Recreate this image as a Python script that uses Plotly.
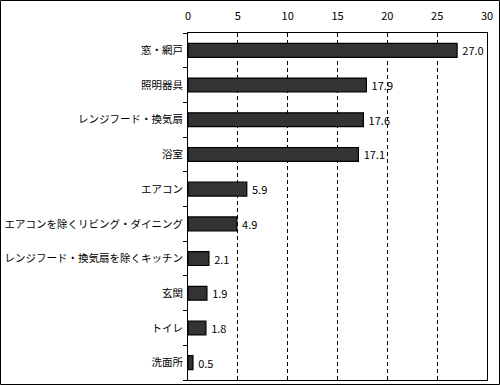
import plotly.graph_objects as go

categories = ["窓・網戸", "照明器具", "レンジフード・換気扇", "浴室", "エアコン",
              "エアコンを除くリビング・ダイニング", "レンジフード・換気扇を除くキッチン",
              "玄関", "トイレ", "洗面所"]
values = [27.0, 17.9, 17.6, 17.1, 5.9, 4.9, 2.1, 1.9, 1.8, 0.5]
x_ticks = [0, 5, 10, 15, 20, 25, 30]

W, H = 500, 385
ml, mr, mt, mb = 188, 13, 33, 5
pw, ph = W - ml - mr, H - mt - mb

font = "Noto Sans CJK JP, sans-serif"

fig = go.Figure(go.Bar(
    y=categories, x=values, orientation="h",
    marker=dict(color="#333333", line=dict(color="black", width=1.2)),
    width=0.4,
    text=["\u2009" + f"{v:.1f}" for v in values], textposition="outside",
    constraintext="none",
    textfont=dict(size=11, color="black", family=font),
    cliponaxis=False,
))

fig.update_layout(
    width=W, height=H,
    margin=dict(l=ml, r=mr, t=mt, b=mb, autoexpand=False),
    paper_bgcolor="white", plot_bgcolor="white",
    showlegend=False,
    font=dict(family=font, size=11, color="black"),
    xaxis=dict(
        range=[0, 30], side="top", tickvals=x_ticks, automargin=False,
        showgrid=True, gridcolor="black", griddash="4px,3px", gridwidth=1,
        showline=True, linecolor="black", linewidth=1, mirror=True,
        zeroline=False, ticks="", tickfont=dict(size=11), fixedrange=True,
        ticklabelstandoff=8,
    ),
    yaxis=dict(
        categoryorder="array", categoryarray=categories[::-1], automargin=False,
        showline=True, linecolor="black", linewidth=1, mirror=True,
        ticks="outside", ticklen=4, tickcolor="black", tickson="boundaries",
        ticklabelstandoff=2,
        showgrid=False, tickfont=dict(size=10.5), fixedrange=True,
    ),
    shapes=[dict(
        type="rect", xref="paper", yref="paper",
        x0=(0.5 - ml) / pw, x1=(W - 0.5 - ml) / pw,
        y0=-(mb - 0.5) / ph, y1=(ph + mt - 0.5) / ph,
        line=dict(color="black", width=1), fillcolor="rgba(0,0,0,0)",
        layer="below",
    )],
)

fig.write_html(
    "out.html",
    config={"displayModeBar": False},
    post_script="document.body.style.margin='0';document.body.style.padding='0';",
)
